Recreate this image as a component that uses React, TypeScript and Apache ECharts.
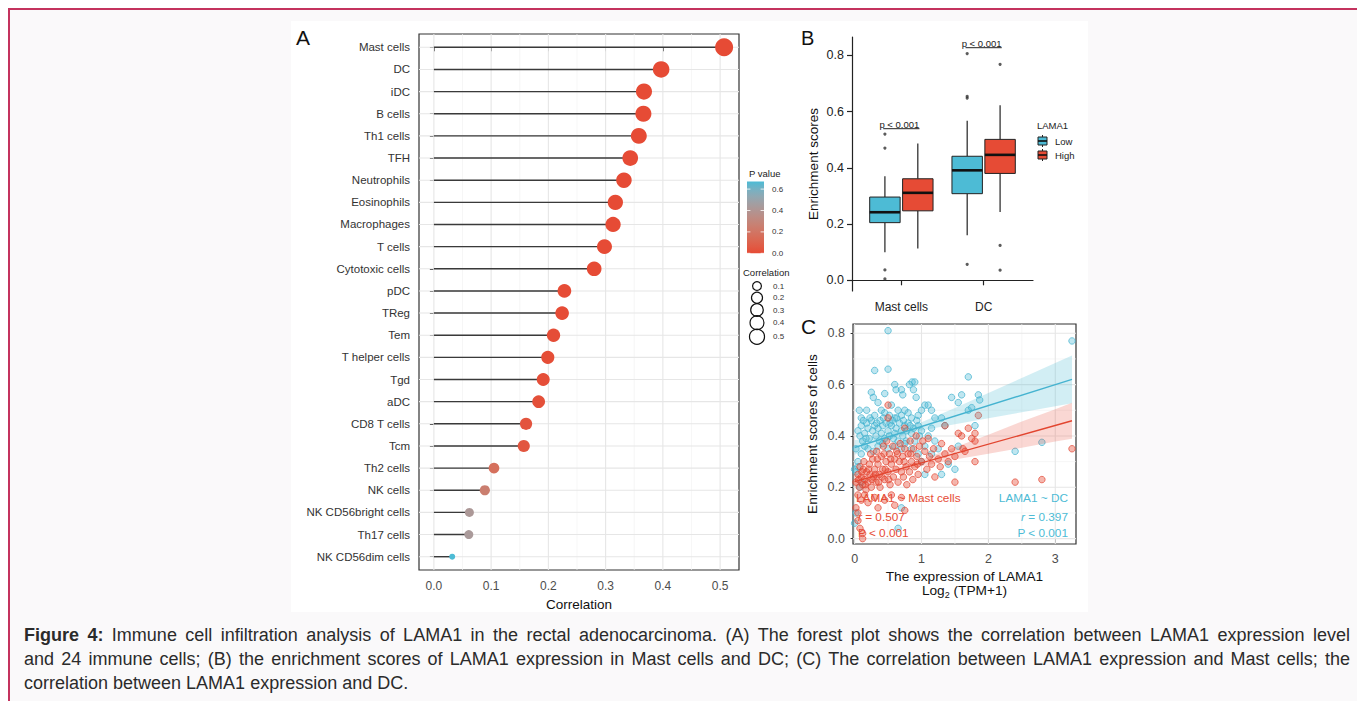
import React, { useEffect, useRef } from 'react';
import * as echarts from 'echarts';

const FONT = '"Liberation Sans", Arial, Helvetica, sans-serif';

// ---------------- Panel A data ----------------
const cells = ['Mast cells', 'DC', 'iDC', 'B cells', 'Th1 cells', 'TFH', 'Neutrophils', 'Eosinophils', 'Macrophages', 'T cells', 'Cytotoxic cells', 'pDC', 'TReg', 'Tem', 'T helper cells', 'Tgd', 'aDC', 'CD8 T cells', 'Tcm', 'Th2 cells', 'NK cells', 'NK CD56bright cells', 'Th17 cells', 'NK CD56dim cells'];
const corr = [0.507, 0.397, 0.367, 0.366, 0.358, 0.343, 0.332, 0.317, 0.313, 0.298, 0.280, 0.228, 0.224, 0.209, 0.199, 0.191, 0.183, 0.161, 0.157, 0.105, 0.089, 0.062, 0.061, 0.032];
const pval = [0, 0, 0, 0, 0, 0, 0, 0, 0, 0, 0.0002, 0.003, 0.004, 0.007, 0.01, 0.013, 0.018, 0.037, 0.043, 0.17, 0.25, 0.42, 0.43, 0.67];
const corrTicks = [0, 0.1, 0.2, 0.3, 0.4, 0.5];
const corrMinor = [0.05, 0.15, 0.25, 0.35, 0.45];
const pTicks = [0, 0.2, 0.4, 0.6];
const sizeTicks = [0.1, 0.2, 0.3, 0.4, 0.5];

// ---------------- Panel B data ----------------
const boxCats = ['Mast cells', 'DC'];
const boxGroups = ['Low', 'High'];
// [min, q1, median, q3, max]
const lowStats = [[0.100, 0.205, 0.242, 0.296, 0.370], [0.160, 0.308, 0.391, 0.441, 0.567]];
const highStats = [[0.113, 0.247, 0.311, 0.361, 0.486], [0.243, 0.380, 0.446, 0.501, 0.622]];
const lowOutliers = [[0, 0.520], [0, 0.470], [0, 0.037], [0, 0.005], [1, 0.806], [1, 0.654], [1, 0.648], [1, 0.057]];
const highOutliers = [[1, 0.768], [1, 0.124], [1, 0.036]];
const testY = [0.539, 0.827];
const testText = ['p < 0.001', 'p < 0.001'];
const boxTicks = [0, 0.2, 0.4, 0.6, 0.8];

// ---------------- Panel C data ----------------
const dcPts = [
  [0.50, 0.81], [0.30, 0.655], [0.50, 0.66], [0.25, 0.57], [0.28, 0.55], [0.45, 0.565], [0.60, 0.60], [0.62, 0.58], [0.70, 0.58], [0.82, 0.60], [0.86, 0.61], [0.90, 0.61], [0.88, 0.58], [0.92, 0.55], [0.72, 0.56], [0.55, 0.52], [0.35, 0.53],
  [0.07, 0.50], [0.18, 0.50], [0.10, 0.47], [0.30, 0.48], [0.40, 0.50], [0.45, 0.49], [0.52, 0.48], [0.60, 0.47], [0.65, 0.50], [0.70, 0.48], [0.75, 0.50], [0.80, 0.49], [0.85, 0.47], [0.95, 0.48], [1.00, 0.50], [1.05, 0.52], [1.10, 0.52], [1.15, 0.50], [1.20, 0.47], [1.30, 0.47], [1.35, 0.44], [1.45, 0.55], [1.55, 0.53], [1.60, 0.56], [1.70, 0.63], [1.70, 0.50], [1.75, 0.51], [1.80, 0.44], [1.85, 0.56], [1.87, 0.54],
  [0.05, 0.42], [0.08, 0.40], [0.10, 0.44], [0.12, 0.38], [0.15, 0.41], [0.18, 0.45], [0.20, 0.43], [0.22, 0.39], [0.25, 0.46], [0.27, 0.42], [0.30, 0.44], [0.32, 0.40], [0.35, 0.43], [0.38, 0.46], [0.40, 0.41], [0.42, 0.44], [0.45, 0.39], [0.47, 0.45], [0.50, 0.42], [0.52, 0.40], [0.55, 0.44], [0.57, 0.46], [0.60, 0.41], [0.62, 0.43], [0.65, 0.38], [0.67, 0.45], [0.70, 0.42], [0.72, 0.40], [0.75, 0.44], [0.78, 0.42], [0.80, 0.45], [0.85, 0.41], [0.88, 0.43], [0.90, 0.38], [0.95, 0.44], [1.00, 0.42], [1.05, 0.36], [1.10, 0.40], [1.15, 0.43], [1.20, 0.38], [1.25, 0.35],
  [0.13, 0.46], [0.23, 0.47], [0.33, 0.45], [0.43, 0.47], [0.53, 0.45], [0.63, 0.47], [0.73, 0.46], [0.83, 0.44], [0.93, 0.46], [0.17, 0.39], [0.37, 0.38], [0.58, 0.39], [0.77, 0.38], [0.97, 0.40],
  [0.02, 0.35], [0.05, 0.30], [0.10, 0.33], [0.15, 0.36], [0.20, 0.35], [0.28, 0.34], [0.35, 0.36], [0.42, 0.37], [0.50, 0.35], [0.60, 0.36], [0.70, 0.35], [0.75, 0.37], [0.85, 0.35], [0.95, 0.33], [1.00, 0.30], [1.05, 0.25], [1.15, 0.33], [1.30, 0.25], [1.40, 0.29], [1.50, 0.27], [1.55, 0.36], [0.00, 0.27], [0.02, 0.26], [0.05, 0.28], [0.08, 0.20], [0.10, 0.22],
  [2.40, 0.34], [2.80, 0.375], [3.25, 0.77], [0.00, 0.06], [0.65, 0.04], [0.70, 0.12], [0.02, 0.10],
];
const mastPts = [
  [0.50, 0.52], [0.50, 0.47], [0.75, 0.43], [1.35, 0.44], [1.55, 0.41], [1.70, 0.43], [1.75, 0.39], [1.80, 0.38], [1.85, 0.48], [1.80, 0.41], [1.50, 0.22], [1.80, 0.30], [1.62, 0.35],
  [0.02, 0.22], [0.05, 0.25], [0.07, 0.20], [0.08, 0.28], [0.10, 0.24], [0.12, 0.21], [0.13, 0.27], [0.15, 0.23], [0.17, 0.19], [0.18, 0.26], [0.20, 0.22], [0.22, 0.29], [0.23, 0.25], [0.25, 0.20], [0.27, 0.31], [0.28, 0.24], [0.30, 0.27], [0.32, 0.22], [0.33, 0.34], [0.35, 0.29], [0.37, 0.25], [0.38, 0.20], [0.40, 0.32], [0.42, 0.27], [0.43, 0.36], [0.45, 0.23], [0.47, 0.30], [0.48, 0.38], [0.50, 0.26], [0.52, 0.33], [0.53, 0.21], [0.55, 0.29], [0.57, 0.36], [0.58, 0.24], [0.60, 0.31], [0.62, 0.27], [0.63, 0.34], [0.65, 0.22], [0.67, 0.30], [0.68, 0.37], [0.70, 0.26], [0.72, 0.32], [0.73, 0.24], [0.75, 0.35], [0.77, 0.28], [0.78, 0.21], [0.80, 0.33], [0.82, 0.26], [0.83, 0.38], [0.85, 0.30], [0.87, 0.23], [0.88, 0.35], [0.90, 0.28], [0.92, 0.40], [0.93, 0.32], [0.95, 0.25], [0.97, 0.36], [1.00, 0.30], [1.02, 0.38], [1.05, 0.34], [1.08, 0.27], [1.10, 0.39], [1.12, 0.32], [1.15, 0.29], [1.18, 0.35], [1.20, 0.24], [1.25, 0.31], [1.28, 0.28], [1.30, 0.37], [1.35, 0.33], [1.40, 0.30], [1.45, 0.35], [1.50, 0.32], [1.60, 0.40], [1.65, 0.34],
  [0.06, 0.23], [0.11, 0.26], [0.16, 0.21], [0.21, 0.27], [0.26, 0.23], [0.31, 0.25], [0.36, 0.22], [0.41, 0.24], [0.46, 0.27], [0.51, 0.23], [0.14, 0.30], [0.24, 0.33], [0.34, 0.31], [0.44, 0.33], [0.54, 0.31], [0.64, 0.33], [0.74, 0.30], [0.84, 0.33], [0.94, 0.29],
  [0.05, 0.17], [0.10, 0.15], [0.15, 0.17], [0.20, 0.14], [0.30, 0.16], [0.45, 0.15], [0.55, 0.17], [0.70, 0.16], [0.75, 0.11], [0.60, 0.13], [0.02, 0.12], [0.05, 0.07], [0.08, 0.04], [0.12, 0.02], [0.12, 0.00], [0.05, 0.10], [0.35, 0.12],
  [2.40, 0.22], [2.80, 0.23], [3.25, 0.35],
];
const dcFit = [[0.0, 0.355], [3.25, 0.62]];
const mastFit = [[0.0, 0.222], [3.25, 0.459]];
// [x, lower, upper]
const dcBand = [[0, 0.327, 0.383], [0.25, 0.355, 0.395], [0.5, 0.382, 0.41], [0.75, 0.404, 0.428], [1.0, 0.421, 0.453], [1.5, 0.445, 0.509], [2.0, 0.469, 0.567], [2.5, 0.492, 0.626], [3.0, 0.516, 0.684], [3.25, 0.527, 0.713]];
const mastBand = [[0, 0.2, 0.244], [0.25, 0.224, 0.256], [0.5, 0.247, 0.271], [0.75, 0.267, 0.287], [1.0, 0.282, 0.308], [1.5, 0.308, 0.356], [2.0, 0.331, 0.405], [2.5, 0.354, 0.456], [3.0, 0.378, 0.504], [3.25, 0.389, 0.529]];
const cXTicks = [0, 1, 2, 3];
const cXMinor = [0.5, 1.5, 2.5];
const cYTicks = [0, 0.2, 0.4, 0.6, 0.8];
const cYMinor = [0.1, 0.3, 0.5, 0.7];
const mastStats = ['LAMA1 ~ Mast cells', '0.507', 'P < 0.001'];
const dcStats = ['LAMA1 ~ DC', '0.397', 'P < 0.001'];

// ---------------- Caption ----------------
const captionBoldWords = 2;
const captionLines = [
  'Figure 4: Immune cell infiltration analysis of LAMA1 in the rectal adenocarcinoma. (A) The forest plot shows the correlation between LAMA1 expression level',
  'and 24 immune cells; (B) the enrichment scores of LAMA1 expression in Mast cells and DC; (C) The correlation between LAMA1 expression and Mast cells; the',
  'correlation between LAMA1 expression and DC.',
];

// ---------------- Layout ----------------
const gA = { left: 419, top: 34, width: 320, height: 536 };
const gB = { left: 852, top: 37, width: 181, height: 254 };
const gC = { left: 853, top: 324, width: 223, height: 220 };
const aX = [-0.026, 0.533];
const aY = [-0.6, 23.6];
const bX = [0.4, 2.6];
const bY = [-0.038, 0.865];
const cX = [-0.024, 3.31];
const cY = [-0.021, 0.836];

const RED = '#E64B35';
const BLUE = '#4DBBD5';

// ---------- colour helpers (Lab interpolation, like ggplot gradients) ----------
function hexToRgb(h: string) { const n = parseInt(h.slice(1), 16); return [(n >> 16) & 255, (n >> 8) & 255, n & 255]; }
function s2l(c: number) { c /= 255; return c <= 0.04045 ? c / 12.92 : Math.pow((c + 0.055) / 1.055, 2.4); }
function l2s(c: number) { const v = c <= 0.0031308 ? 12.92 * c : 1.055 * Math.pow(c, 1 / 2.4) - 0.055; return Math.max(0, Math.min(255, Math.round(v * 255))); }
function toLab(hex: string) {
  const [r, g, b] = hexToRgb(hex).map(s2l);
  const X = (0.4124 * r + 0.3576 * g + 0.1805 * b) / 0.95047;
  const Y = 0.2126 * r + 0.7152 * g + 0.0722 * b;
  const Z = (0.0193 * r + 0.1192 * g + 0.9505 * b) / 1.08883;
  const f = (t: number) => (t > 0.008856 ? Math.cbrt(t) : 7.787 * t + 16 / 116);
  const fx = f(X), fy = f(Y), fz = f(Z);
  return [116 * fy - 16, 500 * (fx - fy), 200 * (fy - fz)];
}
function fromLab(L: number, a: number, bb: number) {
  const fy = (L + 16) / 116, fx = fy + a / 500, fz = fy - bb / 200;
  const fi = (t: number) => (t * t * t > 0.008856 ? t * t * t : (t - 16 / 116) / 7.787);
  const X = fi(fx) * 0.95047, Y = fi(fy), Z = fi(fz) * 1.08883;
  const r = 3.2406 * X - 1.5372 * Y - 0.4986 * Z;
  const g = -0.9689 * X + 1.8758 * Y + 0.0415 * Z;
  const b = 0.0557 * X - 0.2040 * Y + 1.0570 * Z;
  return 'rgb(' + l2s(r) + ',' + l2s(g) + ',' + l2s(b) + ')';
}
const labLow = toLab(RED), labHigh = toLab(BLUE);
const pMax = Math.max(...pval);
function pColor(p: number) {
  const t = Math.max(0, Math.min(1, p / pMax));
  return fromLab(labLow[0] + (labHigh[0] - labLow[0]) * t, labLow[1] + (labHigh[1] - labLow[1]) * t, labLow[2] + (labHigh[2] - labLow[2]) * t);
}
const cMin = Math.min(...corr), cMax = Math.max(...corr);
function sizeOf(v: number) { return 6 + 12 * Math.sqrt(Math.max(0, (v - cMin) / (cMax - cMin))); }

// ---------- series helpers ----------
function gridLines(idx: number, values: number[], dir: 'v' | 'h', ext: number[], color: string, width: number) {
  return {
    type: 'custom', xAxisIndex: idx, yAxisIndex: idx, silent: true, z: 1,
    data: values.map((v) => (dir === 'v' ? [v, ext[0]] : [ext[0], v])),
    renderItem: (_p: any, api: any) => {
      const v = api.value(dir === 'v' ? 0 : 1);
      const a = dir === 'v' ? api.coord([v, ext[0]]) : api.coord([ext[0], v]);
      const b = dir === 'v' ? api.coord([v, ext[1]]) : api.coord([ext[1], v]);
      return { type: 'line', shape: { x1: a[0], y1: a[1], x2: b[0], y2: b[1] }, style: { stroke: color, lineWidth: width } };
    },
  };
}

const DODGE = 0.2, BOXW = 0.37, BRACKET = 0.22;
function boxSeries(name: string, stats: number[][], gi: number, fill: string) {
  const off = gi === 0 ? -DODGE : DODGE;
  return {
    type: 'custom', name, xAxisIndex: 1, yAxisIndex: 1, z: 3,
    data: stats.map((s, ci) => [ci + 1 + off, ...s]),
    renderItem: (_p: any, api: any) => {
      const x = api.value(0);
      const v = [1, 2, 3, 4, 5].map((i) => api.value(i));
      const pts = v.map((y) => api.coord([x, y]));
      const hw = api.size([BOXW, 0])[0] / 2;
      const cx = pts[0][0];
      return {
        type: 'group', children: [
          { type: 'line', shape: { x1: cx, y1: pts[0][1], x2: cx, y2: pts[1][1] }, style: { stroke: '#222', lineWidth: 1.2 } },
          { type: 'line', shape: { x1: cx, y1: pts[3][1], x2: cx, y2: pts[4][1] }, style: { stroke: '#222', lineWidth: 1.2 } },
          { type: 'rect', shape: { x: cx - hw, y: pts[3][1], width: 2 * hw, height: pts[1][1] - pts[3][1] }, style: { fill, stroke: '#222', lineWidth: 1 } },
          { type: 'line', shape: { x1: cx - hw, y1: pts[2][1], x2: cx + hw, y2: pts[2][1] }, style: { stroke: '#111', lineWidth: 2.6 } },
        ],
      };
    },
  };
}

function bandSeries(band: number[][], color: string) {
  return {
    type: 'custom', xAxisIndex: 2, yAxisIndex: 2, silent: true, z: 4,
    data: [[band[0][0], band[0][1]]],
    renderItem: (_p: any, api: any) => {
      const upper = band.map((r) => api.coord([r[0], r[2]]));
      const lower = band.slice().reverse().map((r) => api.coord([r[0], r[1]]));
      return { type: 'polygon', shape: { points: upper.concat(lower) }, style: { fill: color } };
    },
  };
}

function captionElements() {
  const canvas = document.createElement('canvas');
  const ctx = canvas.getContext('2d') as CanvasRenderingContext2D;
  const FS = 18, LEFT = 24, RIGHT = 1350, TOP = 635, LH = 24;
  const els: any[] = [];
  captionLines.forEach((line, li) => {
    const words = line.split(' ');
    const info = words.map((w, wi) => {
      const bold = li === 0 && wi < captionBoldWords;
      ctx.font = (bold ? 'bold ' : '') + FS + 'px "Liberation Sans"';
      return { w, bold, width: ctx.measureText(w).width };
    });
    ctx.font = FS + 'px "Liberation Sans"';
    const space = ctx.measureText(' ').width;
    const total = info.reduce((s, d) => s + d.width, 0);
    const justify = li < captionLines.length - 1;
    const gap = justify ? (RIGHT - LEFT - total) / (info.length - 1) : space;
    let x = LEFT;
    info.forEach((d) => {
      els.push({
        type: 'text', x, y: TOP + li * LH, z: 10,
        style: { text: d.w, fill: '#2b2b2b', fontSize: FS, fontFamily: FONT, fontWeight: d.bold ? 'bold' : 'normal', verticalAlign: 'middle' },
      });
      x += d.width + gap;
    });
  });
  return els;
}

function buildOption() {
  const txt = (text: string, x: number, y: number, fs: number, extra: any = {}) => ({
    type: 'text', x, y, z: 10,
    style: { text, fontSize: fs, fontFamily: FONT, fill: '#222', verticalAlign: 'middle', align: 'left', ...extra },
  });

  // P value colourbar
  const barX = 747, barW = 17, barBottom = 253.3, pxPer = 107;
  const barTop = barBottom - pMax * pxPer;
  const stops = Array.from({ length: 11 }, (_, k) => ({ offset: k / 10, color: pColor(pMax * (1 - k / 10)) }));
  const legendA: any[] = [
    txt('P value', 749, 173, 9.5),
    { type: 'rect', z: 10, shape: { x: barX, y: barTop, width: barW, height: barBottom - barTop }, style: { fill: new echarts.graphic.LinearGradient(0, 0, 0, 1, stops) } },
  ];
  pTicks.forEach((t) => {
    const y = barBottom - t * pxPer;
    legendA.push({ type: 'line', z: 11, shape: { x1: barX, y1: y, x2: barX + 3.4, y2: y }, style: { stroke: '#fff', lineWidth: 0.8 } });
    legendA.push({ type: 'line', z: 11, shape: { x1: barX + barW - 3.4, y1: y, x2: barX + barW, y2: y }, style: { stroke: '#fff', lineWidth: 0.8 } });
    legendA.push(txt(t.toFixed(1), 772, y, 8, { fill: '#333' }));
  });
  legendA.push(txt('Correlation', 743, 272, 9.5));
  const sizeKeyY = [286, 297.7, 310, 322.7, 336.7];
  sizeTicks.forEach((v, i) => {
    legendA.push({ type: 'circle', z: 10, shape: { cx: 757, cy: sizeKeyY[i], r: sizeOf(v) * 0.42 }, style: { fill: 'none', stroke: '#111', lineWidth: 1.2 } });
    legendA.push(txt(v.toFixed(1), 773, sizeKeyY[i], 8, { fill: '#333' }));
  });

  // Legend B
  const legendB: any[] = [txt('LAMA1', 1037, 125, 9.5)];
  [BLUE, RED].forEach((c, i) => {
    const y = 141 + i * 14;
    legendB.push({ type: 'line', z: 10, shape: { x1: 1042.5, y1: y - 6, x2: 1042.5, y2: y + 6 }, style: { stroke: '#222', lineWidth: 1 } });
    legendB.push({ type: 'rect', z: 11, shape: { x: 1038, y: y - 4, width: 9, height: 8 }, style: { fill: c, stroke: '#222', lineWidth: 1 } });
    legendB.push({ type: 'line', z: 12, shape: { x1: 1038, y1: y, x2: 1047, y2: y }, style: { stroke: '#111', lineWidth: 1.6 } });
    legendB.push(txt(boxGroups[i], 1055, y, 9.5));
  });

  // Panel C annotations
  const annC: any[] = [
    txt(mastStats[0], 856, 498, 11.8, { fill: RED }),
    { type: 'text', x: 858, y: 516.5, z: 10, style: { text: '{i|r} = ' + mastStats[1], fontSize: 11.8, fontFamily: FONT, fill: RED, verticalAlign: 'middle', rich: { i: { fontStyle: 'italic', fontSize: 11.8, fontFamily: FONT, fill: RED } } } },
    txt(mastStats[2], 858, 533, 11.8, { fill: RED }),
    txt(dcStats[0], 1068, 498, 11.8, { fill: BLUE, align: 'right' }),
    { type: 'text', x: 1068, y: 516.5, z: 10, style: { text: '{i|r} = ' + dcStats[1], fontSize: 11.8, fontFamily: FONT, fill: BLUE, align: 'right', verticalAlign: 'middle', rich: { i: { fontStyle: 'italic', fontSize: 11.8, fontFamily: FONT, fill: BLUE } } } },
    txt(dcStats[2], 1068, 533, 11.8, { fill: BLUE, align: 'right' }),
    txt('The expression of LAMA1', gC.left + gC.width / 2, 576.5, 13.7, { align: 'center', fill: '#111' }),
    {
      type: 'text', x: gC.left + gC.width / 2, y: 590, z: 10,
      style: {
        text: '{m|Log}{s|2}{m| (TPM+1)}', align: 'center', verticalAlign: 'middle', fill: '#111', fontFamily: FONT,
        rich: { m: { fontSize: 13.7, lineHeight: 18, fontFamily: FONT, fill: '#111', verticalAlign: 'middle' }, s: { fontSize: 9, lineHeight: 9, fontFamily: FONT, fill: '#111', verticalAlign: 'bottom' } },
      },
    },
  ];

  const graphicEls: any[] = [
    { type: 'rect', z: -10, shape: { x: 9, y: 9, width: 1400, height: 760 }, style: { fill: '#faf9fa', stroke: '#c4335e', lineWidth: 2 } },
    { type: 'rect', z: -9, shape: { x: 291, y: 21, width: 797, height: 591 }, style: { fill: '#ffffff' } },
    txt('A', 296, 37, 21, { fill: '#111' }),
    txt('B', 801, 38, 20, { fill: '#111' }),
    txt('C', 801, 326, 21, { fill: '#111' }),
    ...legendA, ...legendB, ...annC, ...captionElements(),
  ];

  const tickStyle = { lineStyle: { color: '#333', width: 1 } };
  const grey = '#4d4d4d';

  return {
    animation: false,
    textStyle: { fontFamily: FONT },
    grid: [
      { ...gA, show: true, borderColor: '#333', borderWidth: 1.2, backgroundColor: '#fff', z: 0 },
      { ...gB, show: false },
      { ...gC, show: true, borderColor: '#333', borderWidth: 1.2, backgroundColor: '#fff', z: 0 },
    ],
    xAxis: [
      {
        gridIndex: 0, type: 'value', min: aX[0], max: aX[1], splitLine: { show: false }, axisLine: { show: false },
        axisTick: { show: true, customValues: corrTicks, length: 4, ...tickStyle },
        axisLabel: { customValues: corrTicks, formatter: (v: number) => v.toFixed(1), color: grey, fontSize: 12, margin: 10 },
        name: 'Correlation', nameLocation: 'middle', nameGap: 27, nameTextStyle: { color: '#111', fontSize: 13.5 },
      },
      {
        gridIndex: 1, type: 'value', min: bX[0], max: bX[1], splitLine: { show: false },
        axisLine: { show: true, lineStyle: { color: '#222', width: 1.2 } },
        axisTick: { show: true, customValues: [1, 2], length: 5, lineStyle: { color: '#222', width: 1.2 } },
        axisLabel: { customValues: [1, 2], formatter: (v: number) => boxCats[Math.round(v) - 1] || '', color: '#222', fontSize: 12, margin: 10 },
      },
      {
        gridIndex: 2, type: 'value', min: cX[0], max: cX[1], splitLine: { show: false }, axisLine: { show: false },
        axisTick: { show: true, customValues: cXTicks, length: 4, ...tickStyle },
        axisLabel: { customValues: cXTicks, formatter: (v: number) => String(v), color: grey, fontSize: 12.5, margin: 8 },
      },
    ],
    yAxis: [
      {
        gridIndex: 0, type: 'value', inverse: true, min: aY[0], max: aY[1], splitLine: { show: false }, axisLine: { show: false },
        axisTick: { show: true, customValues: cells.map((_, i) => i), length: 4, ...tickStyle },
        axisLabel: { customValues: cells.map((_, i) => i), formatter: (v: number) => cells[Math.round(v)] || '', color: '#333', fontSize: 11.5, margin: 9 },
      },
      {
        gridIndex: 1, type: 'value', min: bY[0], max: bY[1], splitLine: { show: false },
        axisLine: { show: true, lineStyle: { color: '#222', width: 1.2 } },
        axisTick: { show: true, customValues: boxTicks, length: 5, lineStyle: { color: '#222', width: 1.2 } },
        axisLabel: { customValues: boxTicks, formatter: (v: number) => v.toFixed(1), color: '#222', fontSize: 12.5, margin: 8 },
        name: 'Enrichment scores', nameLocation: 'middle', nameRotate: 90, nameGap: 32, nameTextStyle: { color: '#111', fontSize: 13.5 },
      },
      {
        gridIndex: 2, type: 'value', min: cY[0], max: cY[1], splitLine: { show: false }, axisLine: { show: false },
        axisTick: { show: true, customValues: cYTicks, length: 4, ...tickStyle },
        axisLabel: { customValues: cYTicks, formatter: (v: number) => v.toFixed(1), color: grey, fontSize: 12.5, margin: 8 },
        name: 'Enrichment scores of cells', nameLocation: 'middle', nameRotate: 90, nameGap: 34, nameTextStyle: { color: '#111', fontSize: 13.7 },
      },
    ],
    series: [
      // Panel A grid
      gridLines(0, corrMinor, 'v', aY, '#f2f2f2', 0.7),
      gridLines(0, corrTicks, 'v', aY, '#e6e6e6', 1.1),
      gridLines(0, cells.map((_, i) => i), 'h', aX, '#e6e6e6', 1.1),
      {
        type: 'custom', xAxisIndex: 0, yAxisIndex: 0, z: 2,
        data: corr.map((v, i) => [v, i]),
        renderItem: (_p: any, api: any) => {
          const a = api.coord([0, api.value(1)]);
          const b = api.coord([api.value(0), api.value(1)]);
          return { type: 'line', shape: { x1: a[0], y1: a[1], x2: b[0], y2: b[1] }, style: { stroke: '#3a3a3a', lineWidth: 1.4 } };
        },
      },
      {
        type: 'scatter', xAxisIndex: 0, yAxisIndex: 0, z: 3,
        data: corr.map((v, i) => [v, i, pval[i]]),
        symbolSize: (val: number[]) => sizeOf(val[0]),
        itemStyle: { color: (p: any) => pColor(p.data[2]), opacity: 1 },
      },
      // Panel B
      boxSeries(boxGroups[0], lowStats, 0, BLUE),
      boxSeries(boxGroups[1], highStats, 1, RED),
      {
        type: 'scatter', xAxisIndex: 1, yAxisIndex: 1, z: 4, symbolSize: 3.2,
        itemStyle: { color: '#333' },
        data: lowOutliers.map((o) => [o[0] + 1 - DODGE, o[1]]).concat(highOutliers.map((o) => [o[0] + 1 + DODGE, o[1]])),
      },
      {
        type: 'custom', xAxisIndex: 1, yAxisIndex: 1, z: 5,
        data: testY.map((y, i) => [i + 1, y]),
        renderItem: (params: any, api: any) => {
          const x = api.value(0), y = api.value(1);
          const a = api.coord([x - BRACKET, y]);
          const b = api.coord([x + BRACKET, y]);
          return {
            type: 'group', children: [
              { type: 'line', shape: { x1: a[0], y1: a[1], x2: b[0], y2: b[1] }, style: { stroke: '#222', lineWidth: 1 } },
              { type: 'text', style: { text: testText[params.dataIndex], x: (a[0] + b[0]) / 2 - 2, y: a[1] + 0.5, align: 'center', verticalAlign: 'bottom', fontSize: 9.5, fontFamily: FONT, fill: '#222' } },
            ],
          };
        },
      },
      // Panel C grid
      gridLines(2, cXMinor, 'v', cY, '#f2f2f2', 0.7),
      gridLines(2, cYMinor, 'h', cX, '#f2f2f2', 0.7),
      gridLines(2, cXTicks, 'v', cY, '#e6e6e6', 1.1),
      gridLines(2, cYTicks, 'h', cX, '#e6e6e6', 1.1),
      {
        type: 'scatter', xAxisIndex: 2, yAxisIndex: 2, z: 3, symbolSize: 6.5, data: dcPts,
        itemStyle: { color: 'rgba(77,187,213,0.45)', borderColor: 'rgba(60,175,205,0.85)', borderWidth: 1 },
      },
      {
        type: 'scatter', xAxisIndex: 2, yAxisIndex: 2, z: 3, symbolSize: 6.5, data: mastPts,
        itemStyle: { color: 'rgba(230,75,53,0.5)', borderColor: 'rgba(225,65,45,0.85)', borderWidth: 1 },
      },
      bandSeries(dcBand, 'rgba(77,187,213,0.25)'),
      bandSeries(mastBand, 'rgba(230,75,53,0.22)'),
      { type: 'line', xAxisIndex: 2, yAxisIndex: 2, z: 5, data: dcFit, showSymbol: false, symbol: 'none', lineStyle: { color: '#45b3d0', width: 1.4 } },
      { type: 'line', xAxisIndex: 2, yAxisIndex: 2, z: 5, data: mastFit, showSymbol: false, symbol: 'none', lineStyle: { color: '#e2452f', width: 1.4 } },
    ],
    graphic: { elements: graphicEls },
  };
}

export default function App() {
  const ref = useRef<HTMLDivElement>(null);
  useEffect(() => {
    if (!ref.current) return;
    const chart = echarts.init(ref.current, null, { renderer: 'svg' });
    chart.setOption(buildOption() as any);
    return () => chart.dispose();
  }, []);
  return <div ref={ref} style={{ position: 'fixed', left: 0, top: 0, width: 1357, height: 701, background: '#ffffff' }} />;
}
